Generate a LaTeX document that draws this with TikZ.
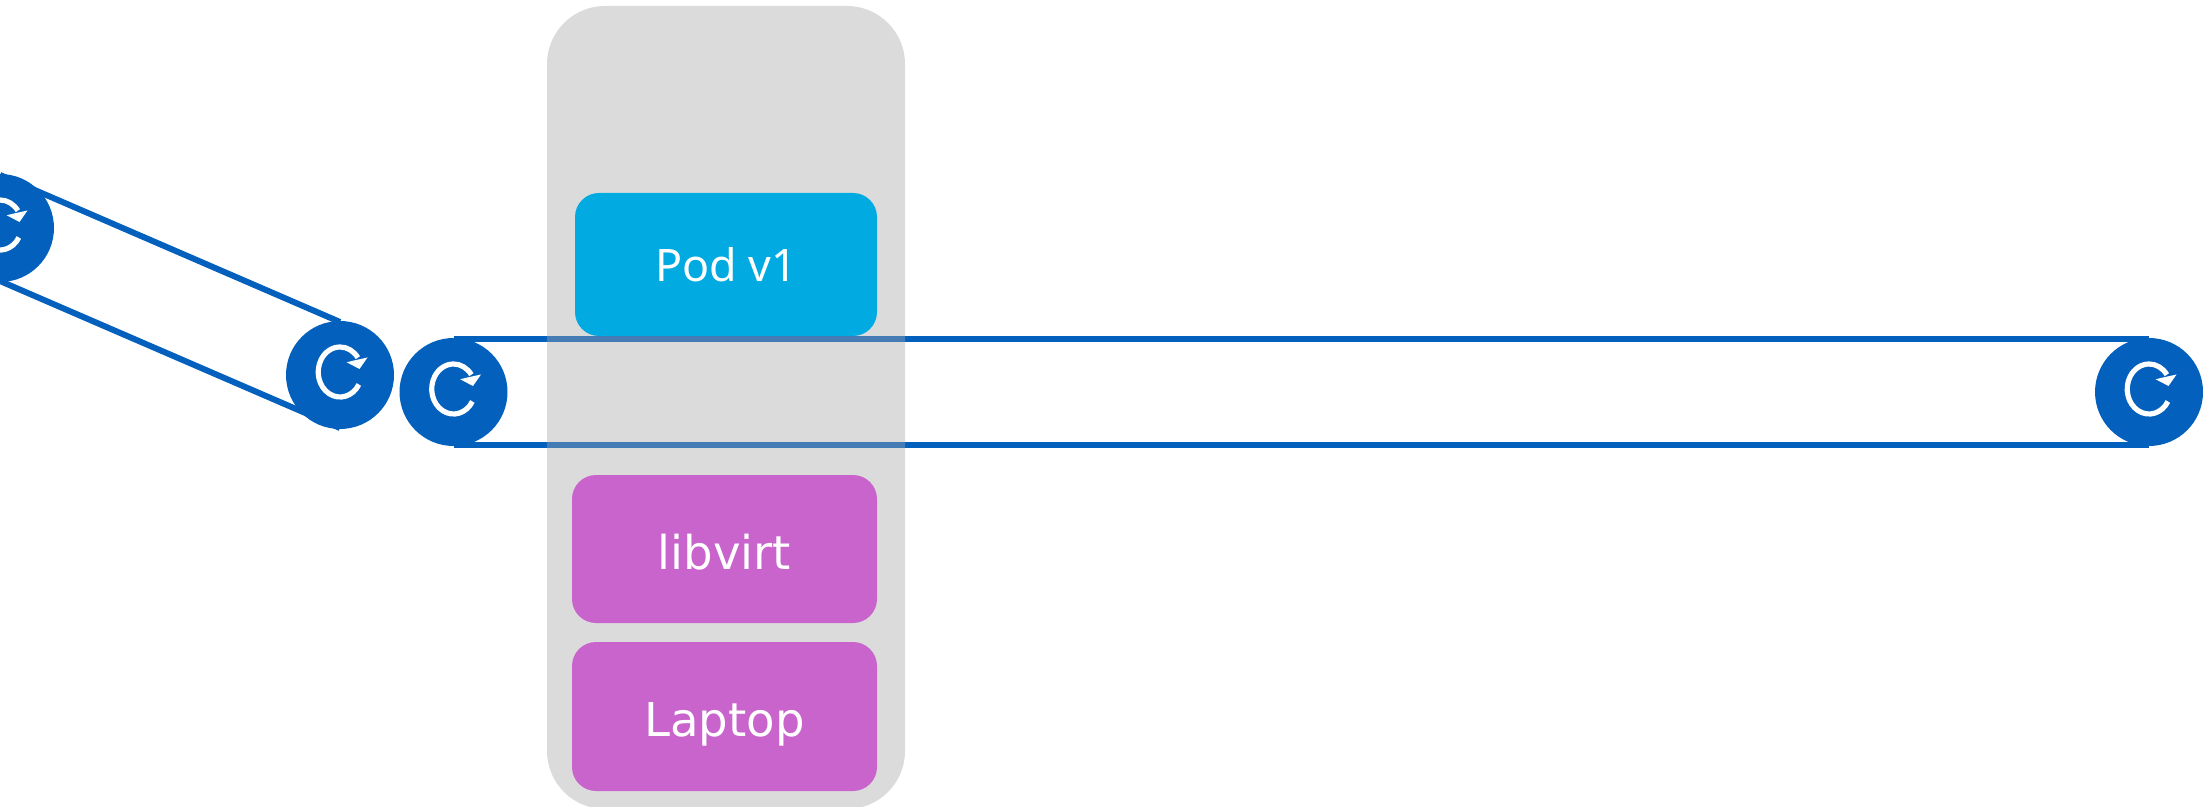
\documentclass[tikz,border=0pt]{standalone}
\usepackage{fontspec}
\setmainfont{DejaVu Sans}
\newfontfamily\podfont{Noto Sans}
\usetikzlibrary{positioning}
\definecolor{tunnelblue}{HTML}{0360BC}
\definecolor{podblue}{HTML}{02AAE2}
\definecolor{hostpurple}{HTML}{C864CC}

\begin{document}
\begin{tikzpicture}[x=0.5pt, y=-0.5pt]
% STYLES
\tikzset{%
    port/.style={%
    circle,
    fill=tunnelblue,
    draw=tunnelblue,
    line width=1pt,
    outer sep=0pt,
    inner sep=0pt,
    minimum size=53pt}
    }
\tikzset{%
    tunnel/.style={%
    draw=tunnelblue,
    line width=3pt}
    }
\tikzset{%
    tile/.style={%
    rectangle,
    rounded corners=12pt,
    outer sep=0pt,
    text=white,
    text height=20pt,
    text depth=0pt,
    minimum width=152.5pt}
    }
\tikzset{%
    refresh/.pic={%
    \draw[white, line width=2.6pt] (18.9,9.5) arc[start angle=30, end angle=325, x radius=21.8, y radius=25];
    \fill[white] (27.5,-17.5) -- (19.5,-6) -- (6.7,-12.7) -- (13,-14.3) -- cycle;
    }
    }
\useasboundingbox (0,0) rectangle (2211,807);
\clip (0,0) rectangle (2211,807);

% Draw ports
\node [port] (PortA) at (0,228) {};
\node [port] (PortB) at (340,375) {};
\node [port] (PortC) at (453.5,392) {};
\node [port] (PortD) at (2149,392) {};
\pic at (PortA) {refresh};
\pic at (PortB) {refresh};
\pic at (PortC) {refresh};
\pic at (PortD) {refresh};

% Draw the links between ports
\path[tunnel]
(PortA.north) edge (PortB.north)
(PortA.south) edge (PortB.south)
(PortC.north) edge (PortD.north)
(PortC.south) edge (PortD.south);

% Draw the host and its layers
\node [rectangle, rounded corners=29pt, fill={rgb,255:red,166;green,166;blue,166}, fill opacity=0.4, minimum width=179pt, minimum height=401.5pt, outer sep=0pt] (Host) at (726,407.5) {};
\node [tile, fill=hostpurple, minimum height=74pt, font=\fontsize{23.3pt}{28pt}\selectfont] (Libvirt) at (724.5,549) {libvirt};
\node [tile, fill=hostpurple, minimum height=74.5pt, font=\fontsize{23.3pt}{28pt}\selectfont, below=9.5pt of Libvirt] (Laptop) {Laptop};
\node [tile, fill=podblue, minimum width=151pt, minimum height=71.5pt, text height=17.5pt, font=\podfont\fontsize{22.4pt}{26pt}\selectfont] (Pod) at (726,264.5) {Pod v1};

\end{tikzpicture}
\end{document}
